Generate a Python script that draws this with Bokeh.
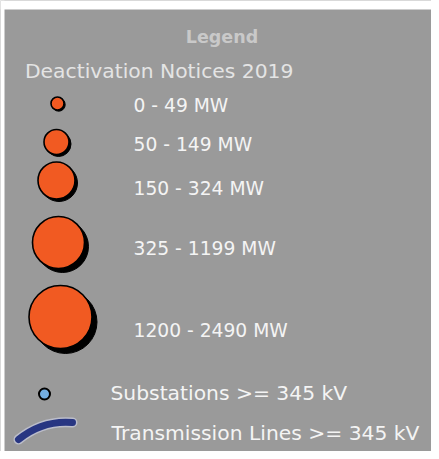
from bokeh.plotting import figure
from bokeh.models import Range1d, ColumnDataSource
from bokeh.core.properties import value
from bokeh.embed import file_html
from bokeh.resources import INLINE

# ---- content ----
legend_title = "Legend"
section_title = "Deactivation Notices 2019"
mw_labels = ["0 - 49 MW", "50 - 149 MW", "150 - 324 MW", "325 - 1199 MW", "1200 - 2490 MW"]
symbol_radius = [6.5, 12.5, 18.5, 26, 31.5]
other_labels = ["Substations >= 345 kV", "Transmission Lines >= 345 kV"]

# ---- layout (pixel coordinates of the picture) ----
circle_x = [57, 56, 56, 58, 60]
circle_y = [103, 141.5, 180, 242, 316.5]
shadow_off = [1.2, 2, 2.5, 4, 5]
label_x = [133, 133, 133, 133, 133]
label_base = [104.7, 143.7, 188, 248, 329.7]

FONT = "DejaVu Sans"
W, H = 431, 451

p = figure(width=W, height=H, x_range=Range1d(0, W), y_range=Range1d(H, 0),
           output_backend="svg", toolbar_location=None, min_border=0)
p.axis.visible = False
p.grid.visible = False
p.outline_line_color = None
p.background_fill_color = "#9a9a9a"
p.border_fill_color = "white"

# white frame of the original picture (top and left strips)
p.quad(left=[0, 0], right=[W, 4], top=[0, 0], bottom=[9, H], fill_color="white",
       line_color=None)

# headers
p.text(x=[221.5], y=[36.5], text=[legend_title], text_font=value(FONT), text_font_style="bold",
       text_font_size=value("17.5px"), text_color="#c9c9c9", text_align="center",
       text_baseline="alphabetic")
p.text(x=[24.5], y=[70.2], text=[section_title], text_font=value(FONT),
       text_font_size=value("20.3px"), text_color="#e4e4e4", text_align="left",
       text_baseline="alphabetic")

# graduated circles
src = ColumnDataSource(dict(
    x=circle_x, y=circle_y, r=symbol_radius,
    sx=[a + d for a, d in zip(circle_x, shadow_off)],
    sy=[a + d for a, d in zip(circle_y, shadow_off)],
    lx=label_x, ly=label_base, label=mw_labels))
p.circle(x="sx", y="sy", radius="r", source=src, fill_color="black", line_color="black",
         line_width=1)
p.circle(x="x", y="y", radius="r", source=src, fill_color="#f15a22", line_color="black",
         line_width=1.6)
p.text(x="lx", y="ly", text="label", source=src, text_font=value(FONT),
       text_font_size=value("18.7px"), text_color="#f4f4f4", text_align="left",
       text_baseline="alphabetic")

# substation symbol
p.circle(x=[44], y=[393.5], radius=5.5, fill_color="#74aee2", line_color="black", line_width=2)

# transmission line symbol
p.quadratic(x0=[18], y0=[439], x1=[72], y1=[422], cx=[42], cy=[419.5],
            line_color="#c3c6d6", line_width=10, line_cap="round", line_alpha=0.8)
p.quadratic(x0=[18], y0=[439], x1=[72], y1=[422], cx=[42], cy=[419.5],
            line_color="#283682", line_width=7, line_cap="round")

p.text(x=[110, 111], y=[392, 432.5], text=other_labels, text_font=value(FONT),
       text_font_size=value("20.3px"), text_color="#f4f4f4", text_align="left",
       text_baseline="alphabetic")

open("out.html", "w").write(file_html(p, INLINE))
